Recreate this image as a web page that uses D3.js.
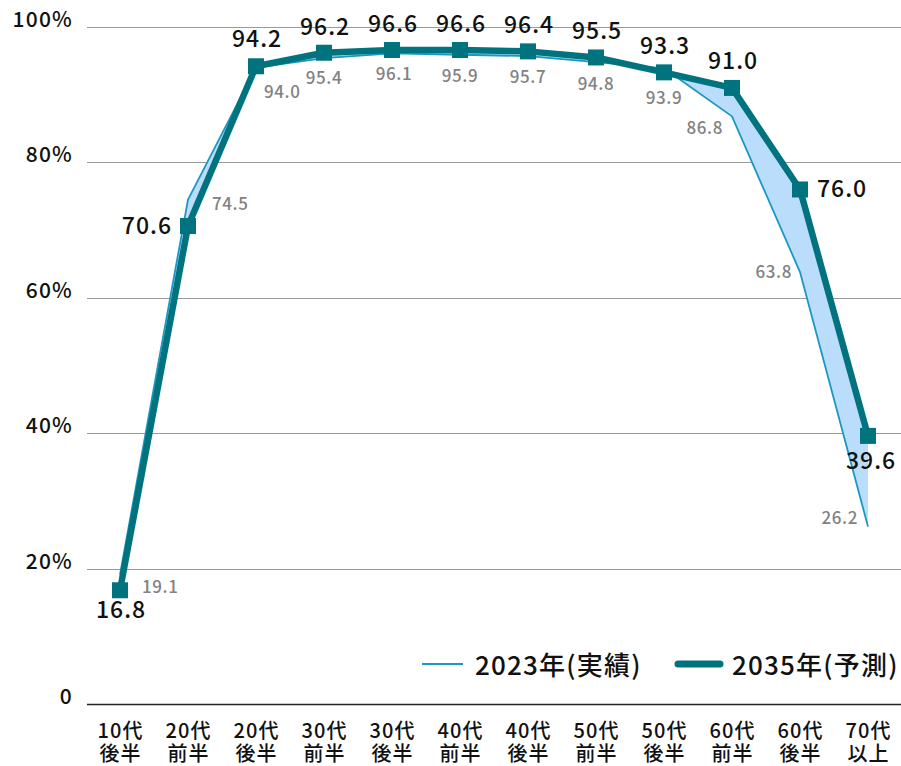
<!DOCTYPE html>
<html>
<head>
<meta charset="utf-8">
<script src="https://cdn.jsdelivr.net/npm/d3@7/dist/d3.min.js"></script>
<style>
  html, body { margin: 0; padding: 0; background: #fff; }
  svg { display: block; font-family: "Noto Sans CJK JP", "Noto Sans", sans-serif; }
</style>
</head>
<body>
<svg id="chart" width="901" height="766"></svg>
<script>
// Age groups (two-line labels)
const catLine1 = ["10代", "20代", "20代", "30代", "30代", "40代", "40代", "50代", "50代", "60代", "60代", "70代"];
const catLine2 = ["後半", "前半", "後半", "前半", "後半", "前半", "後半", "前半", "後半", "前半", "後半", "以上"];

// Rates (%)
const values2023 = [19.1, 74.5, 94.0, 95.4, 96.1, 95.9, 95.7, 94.8, 93.9, 86.8, 63.8, 26.2];
const values2035 = [16.8, 70.6, 94.2, 96.2, 96.6, 96.6, 96.4, 95.5, 93.3, 91.0, 76.0, 39.6];

const yTicks = [0, 20, 40, 60, 80, 100];
const seriesNames = ["2023年(実績)", "2035年(予測)"];

const colThin = "#1b98c2";
const colThick = "#00737f";
const colFill = "#b9ddfa";

const svg = d3.select("#chart");
const idx = d3.range(catLine1.length);

const x = d3.scalePoint().domain(idx).range([120, 868]);
const y = d3.scaleLinear().domain([0, 100]).range([704, 27]);

// Gridlines and y labels
const grid = svg.append("g");
grid.selectAll("line").data(yTicks).join("line")
  .attr("x1", 87).attr("x2", 901)
  .attr("y1", d => Math.round(y(d)) + 0.5).attr("y2", d => Math.round(y(d)) + 0.5)
  .attr("stroke", d => d === 0 ? "#222" : "#9a9a9a")
  .attr("stroke-width", d => d === 0 ? 1.5 : 1.2);
grid.selectAll("text").data(yTicks).join("text")
  .attr("x", 73).attr("y", d => y(d))
  .attr("text-anchor", "end")
  .attr("font-size", 21).attr("font-weight", 500).attr("fill", "#111")
  .attr("letter-spacing", 1.2)
  .text(d => d === 0 ? "0" : d + "%");

// x labels: one text per category, two lines
const xl = svg.append("g").selectAll("text").data(idx).join("text")
  .attr("text-anchor", "middle")
  .attr("font-size", 20).attr("font-weight", 500).attr("fill", "#111")
  .attr("letter-spacing", 1);
xl.append("tspan").attr("x", d => x(d) + 0.5).attr("y", 738).text(d => catLine1[d]);
xl.append("tspan").attr("x", d => x(d) + 0.5).attr("dy", 23).text(d => catLine2[d]);

// Band between the two series
const area = d3.area()
  .x(d => x(d))
  .y0(d => y(values2023[d]))
  .y1(d => y(values2035[d]));
svg.append("path").datum(idx).attr("d", area).attr("fill", colFill);

// 2023 line
const line2023 = d3.line().x(d => x(d)).y(d => y(values2023[d]));
svg.append("path").datum(idx).attr("d", line2023)
  .attr("fill", "none").attr("stroke", colThin).attr("stroke-width", 1.8)
  .attr("stroke-linejoin", "round");

// 2035 line
const line2035 = d3.line().x(d => x(d)).y(d => y(values2035[d]));
svg.append("path").datum(idx).attr("d", line2035)
  .attr("fill", "none").attr("stroke", colThick).attr("stroke-width", 6.5)
  .attr("stroke-linejoin", "round");

// 2035 markers
const ms = 16;
svg.append("g").selectAll("rect").data(idx).join("rect")
  .attr("x", d => x(d) - ms / 2).attr("y", d => y(values2035[d]) - ms / 2)
  .attr("width", ms).attr("height", ms).attr("fill", colThick);

// Value label placement: [anchor, dx, dy]
const place2035 = [
  ["middle", 1, 28], ["end", -16, 8], ["middle", 1, -19], ["middle", 1, -18],
  ["middle", 1, -18], ["middle", 1, -18], ["middle", 1, -18], ["middle", 1, -18],
  ["middle", 1, -18], ["middle", 1, -19], ["start", 17, 8], ["middle", 3, 33]
];
const place2023 = [
  ["start", 22, 18], ["start", 24, 10], ["start", 8, 30], ["middle", 0, 26],
  ["middle", 2, 27], ["middle", 0, 27], ["middle", 0, 27], ["middle", 0, 28],
  ["middle", 0, 36], ["end", -9, 18], ["end", -8, 6], ["end", -10, -3]
];

svg.append("g").selectAll("text").data(idx).join("text")
  .attr("x", d => x(d) + place2023[d][1])
  .attr("y", d => y(values2023[d]) + place2023[d][2])
  .attr("text-anchor", d => place2023[d][0])
  .attr("font-size", 17).attr("font-weight", 500).attr("fill", "#828282")
  .attr("letter-spacing", 0.6)
  .text(d => values2023[d].toFixed(1));

svg.append("g").selectAll("text").data(idx).join("text")
  .attr("x", d => x(d) + place2035[d][1])
  .attr("y", d => y(values2035[d]) + place2035[d][2])
  .attr("text-anchor", d => place2035[d][0])
  .attr("font-size", 23).attr("font-weight", 500).attr("fill", "#111")
  .attr("letter-spacing", 1)
  .text(d => values2035[d].toFixed(1));

// Legend
const lg = svg.append("g");
lg.append("line").attr("x1", 422).attr("x2", 463).attr("y1", 664).attr("y2", 664)
  .attr("stroke", colThin).attr("stroke-width", 2);
lg.append("text").attr("x", 475).attr("y", 675)
  .attr("font-size", 26).attr("font-weight", 500).attr("fill", "#111")
  .attr("letter-spacing", 1.2)
  .text(seriesNames[0]);
lg.append("line").attr("x1", 678).attr("x2", 720).attr("y1", 664).attr("y2", 664)
  .attr("stroke", colThick).attr("stroke-width", 7).attr("stroke-linecap", "round");
lg.append("text").attr("x", 732).attr("y", 675)
  .attr("font-size", 26).attr("font-weight", 500).attr("fill", "#111")
  .attr("letter-spacing", 1.2)
  .text(seriesNames[1]);
</script>
</body>
</html>
